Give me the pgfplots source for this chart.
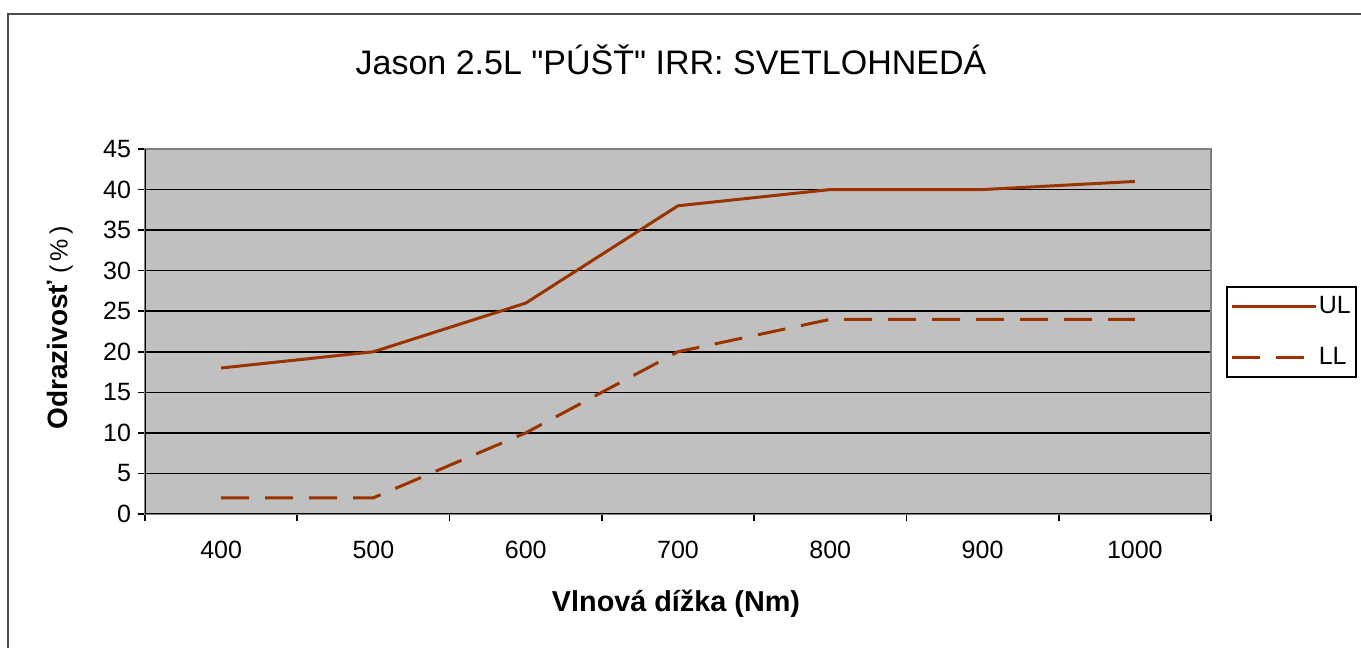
\documentclass[border=0pt]{standalone}
\usepackage{pgfplots}
\pgfplotsset{compat=1.18}
\usepackage{fontspec}
\setmainfont{Liberation Sans}
\newfontfamily\titlefont{Liberation Sans}[Ligatures=TeXOff]
\definecolor{linebrown}{RGB}{153,51,0}
\definecolor{plotgray}{RGB}{192,192,192}
\definecolor{framegray}{RGB}{128,128,128}
\begin{document}
\begin{tikzpicture}
\useasboundingbox (0,0) rectangle (680.5pt,324pt);
\draw[line width=1pt, color=black!70] (4pt,-2pt) -- (4pt,317pt) -- (684pt,317pt);
\node[font=\titlefont\fontsize{17}{20}\selectfont] at (335.5pt,294pt) {Jason 2.5L "PÚŠŤ" IRR: SVETLOHNEDÁ};
\node[font=\fontsize{14.4}{17}\selectfont\bfseries] at (338pt,22pt) {Vlnová dížka (Nm)};
\node[rotate=90, font=\fontsize{12.5}{15}\selectfont] at (30pt,160pt) {{\fontsize{14}{17}\selectfont\bfseries Odrazivosť} (\,\%\,)};
\begin{axis}[
  at={(72.5pt,67pt)}, anchor=south west,
  scale only axis,
  width=533pt, height=182.5pt,
  xmin=-0.5, xmax=6.5, ymin=0, ymax=45,
  xtick={0,1,2,3,4,5,6},
  xticklabels={400,500,600,700,800,900,1000},
  minor xtick={-0.5,0.5,...,6.5},
  major x tick style={draw=none},
  ytick={0,5,...,45},
  tick align=outside,
  xtick pos=left, ytick pos=left,
  major tick length=3.5pt, minor tick length=3.5pt,
  tick style={black, line width=0.8pt},
  ymajorgrids,
  major grid style={black, line width=0.8pt},
  axis background/.style={fill=plotgray},
  axis line style={framegray, line width=0.8pt},
  /pgf/number format/assume math mode=true,
  ticklabel style={font=\fontsize{12.5}{15}\selectfont},
  xticklabel style={yshift=-6.5pt},
  legend style={at={(1.0141,0.6247)}, anchor=north west, draw=black, line width=0.8pt, fill=white,
    inner xsep=2pt, inner ysep=5pt, row sep=15pt, font=\fontsize{12.5}{15}\selectfont,
    nodes={inner xsep=0.5pt, inner ysep=0pt}},
  legend cell align=left,
  legend image code/.code={\draw[#1] (0pt,0pt) -- (42pt,0pt);},
]
\addplot[linebrown, line width=1.5pt] coordinates {(0,18) (1,20) (2,26) (3,38) (4,40) (5,40) (6,41)};
\addlegendentry{UL}
\addplot[linebrown, line width=1.5pt, dash pattern=on 14pt off 8pt] coordinates {(0,2) (1,2) (2,10) (3,20) (4,24) (5,24) (6,24)};
\addlegendentry{LL}
\draw[black, line width=1pt] (rel axis cs:0,1) -- (rel axis cs:0,0) -- (rel axis cs:1,0);
\end{axis}
\end{tikzpicture}
\end{document}
